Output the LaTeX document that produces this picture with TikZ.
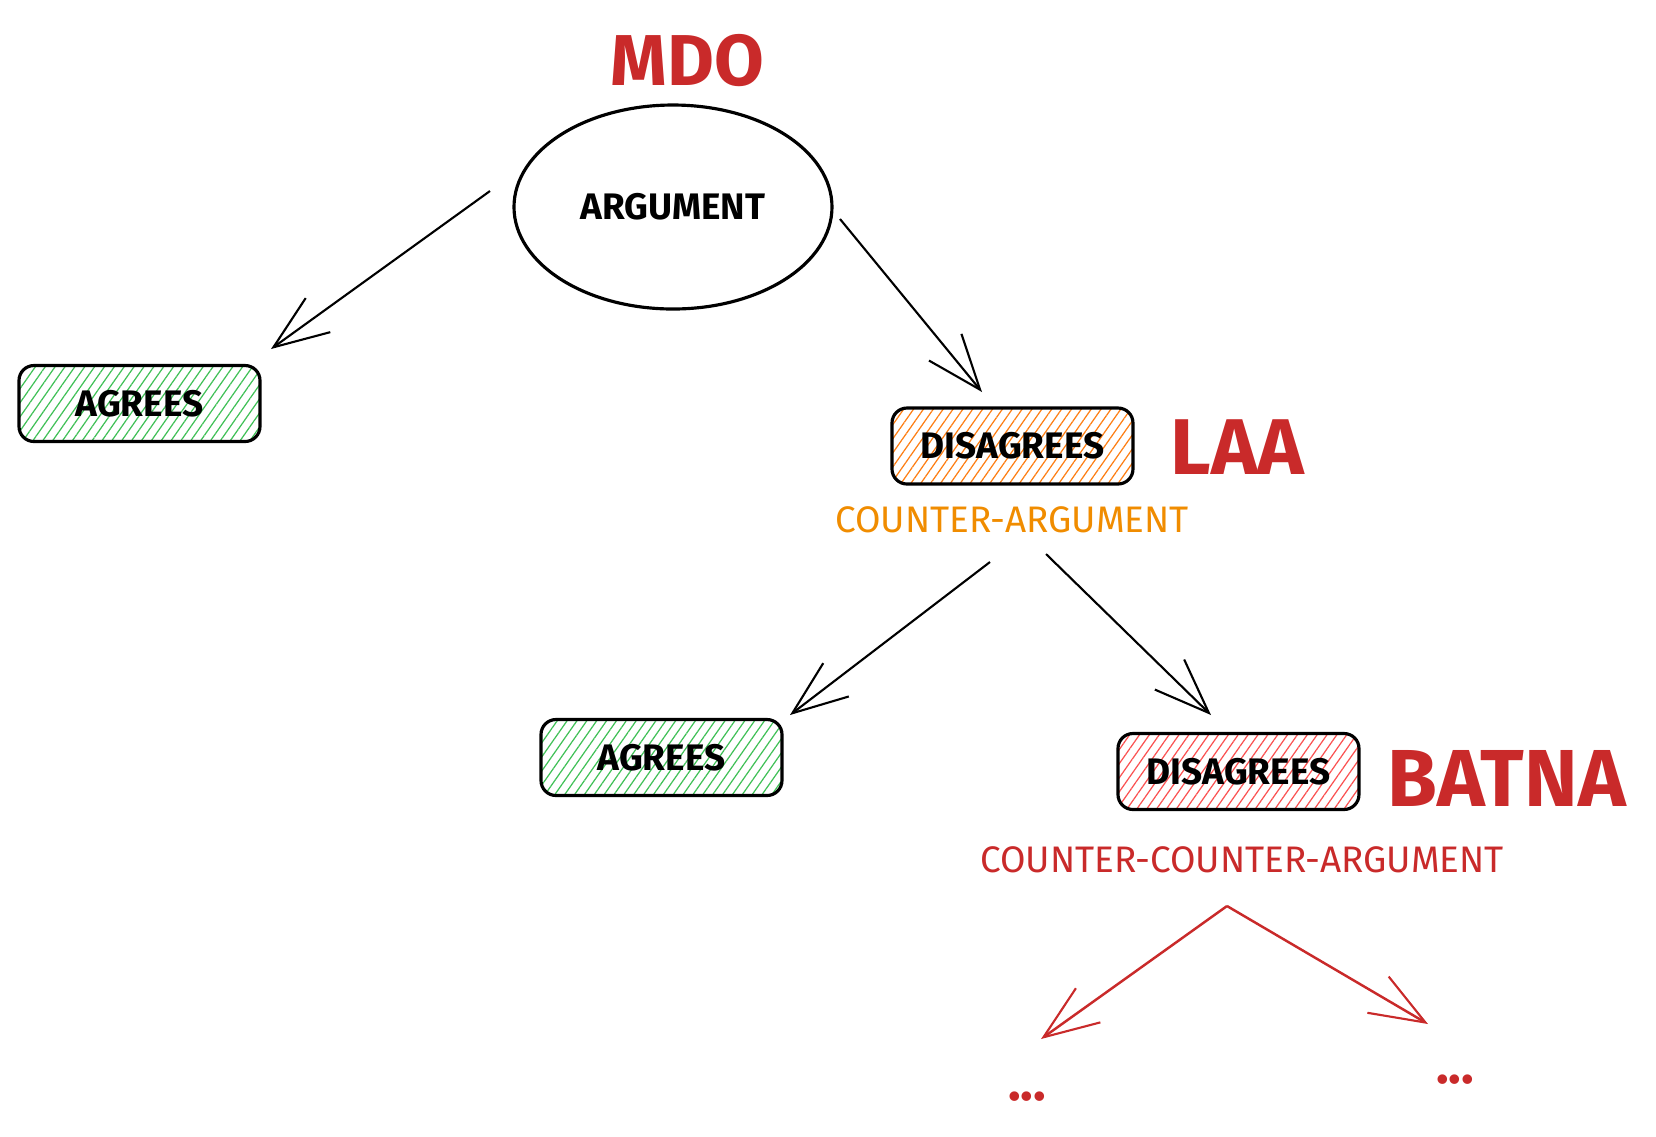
\documentclass[tikz,border=0pt]{standalone}
\usepackage{fontspec}
\setmainfont{Fira Sans}
\usetikzlibrary{arrows.meta,shapes.geometric,patterns.meta}
\definecolor{redtxt}{HTML}{C92A2A}
\definecolor{orangetxt}{HTML}{F08C00}
\definecolor{hgreen}{HTML}{40C057}
\definecolor{horange}{HTML}{FD7E14}
\definecolor{hred}{HTML}{FA5252}
\tikzset{
  hbox/.style={draw=black, line width=0.9pt, rounded corners=0.15cm,
    minimum width=2.41cm, minimum height=0.76cm, inner sep=0pt,
    font=\fontsize{10.5}{11}\selectfont\bfseries},
  hatchgreen/.style={hbox, pattern={Lines[angle=55,distance=2.3pt,line width=0.35pt]}, pattern color=hgreen},
  hatchorange/.style={hbox, pattern={Lines[angle=55,distance=2.3pt,line width=0.35pt]}, pattern color=horange},
  hatchred/.style={hbox, pattern={Lines[angle=55,distance=2.3pt,line width=0.35pt]}, pattern color=hred},
  conn/.style={line width=0.6pt, -{Straight Barb[length=5.5mm,width=4.2mm,line width=0.6pt]}},
  redconn/.style={conn, draw=redtxt, line width=0.7pt},
  biglabel/.style={text=redtxt, inner sep=0pt, anchor=west},
  sublabel/.style={inner sep=0pt, font=\fontsize{10.5}{11}\selectfont},
}
\begin{document}
\begin{tikzpicture}
\useasboundingbox (0,0) rectangle (16.56,-11.36);
% top label
\node[biglabel, font=\fontsize{20.5}{22}\selectfont\bfseries] (mdo) at (6.10,-0.61) {MDO};
% argument ellipse
\node[draw, ellipse, line width=0.9pt, minimum width=3.18cm, minimum height=2.04cm,
  font=\fontsize{10.5}{11}\selectfont\bfseries] (arg) at (6.73,-2.07) {ARGUMENT};
% level 1
\node[hatchgreen] (ag1) at (1.395,-4.035) {AGREES};
\node[hatchorange] (dis1) at (10.125,-4.46) {DISAGREES};
\node[biglabel, font=\fontsize{22.5}{24}\selectfont\bfseries] (laa) at (11.70,-4.47) {LAA};
\node[sublabel, text=orangetxt] (ca) at (10.12,-5.20) {COUNTER-ARGUMENT};
% level 2
\node[hatchgreen] (ag2) at (6.615,-7.575) {AGREES};
\node[hatchred] (dis2) at (12.385,-7.715) {DISAGREES};
\node[biglabel, font=\fontsize{23}{25}\selectfont\bfseries] (batna) at (13.87,-7.78) {BATNA};
\node[sublabel, text=redtxt] (cca) at (12.42,-8.60) {COUNTER-COUNTER-ARGUMENT};
% dots
\node[text=redtxt, inner sep=0pt, font=\fontsize{15}{15}\selectfont\bfseries] (dl) at (10.27,-10.97) {...};
\node[text=redtxt, inner sep=0pt, font=\fontsize{15}{15}\selectfont\bfseries] (dr) at (14.55,-10.80) {...};
% connector end points
\coordinate (a1s) at (4.90,-1.91);
\coordinate (a1e) at (2.71,-3.49);
\coordinate (a2s) at (8.40,-2.19);
\coordinate (a2e) at (9.82,-3.92);
\coordinate (a3s) at (9.90,-5.62);
\coordinate (a3e) at (7.90,-7.15);
\coordinate (a4s) at (10.46,-5.54);
\coordinate (a4e) at (12.11,-7.15);
\coordinate (r0) at (12.27,-9.06);
\coordinate (rl) at (10.41,-10.39);
\coordinate (rr) at (14.28,-10.24);
\draw[conn] (a1s) -- (a1e);
\draw[conn] (a2s) -- (a2e);
\draw[conn] (a3s) -- (a3e);
\draw[conn] (a4s) -- (a4e);
\draw[redconn] (r0) -- (rl);
\draw[redconn] (r0) -- (rr);
\end{tikzpicture}
\end{document}
